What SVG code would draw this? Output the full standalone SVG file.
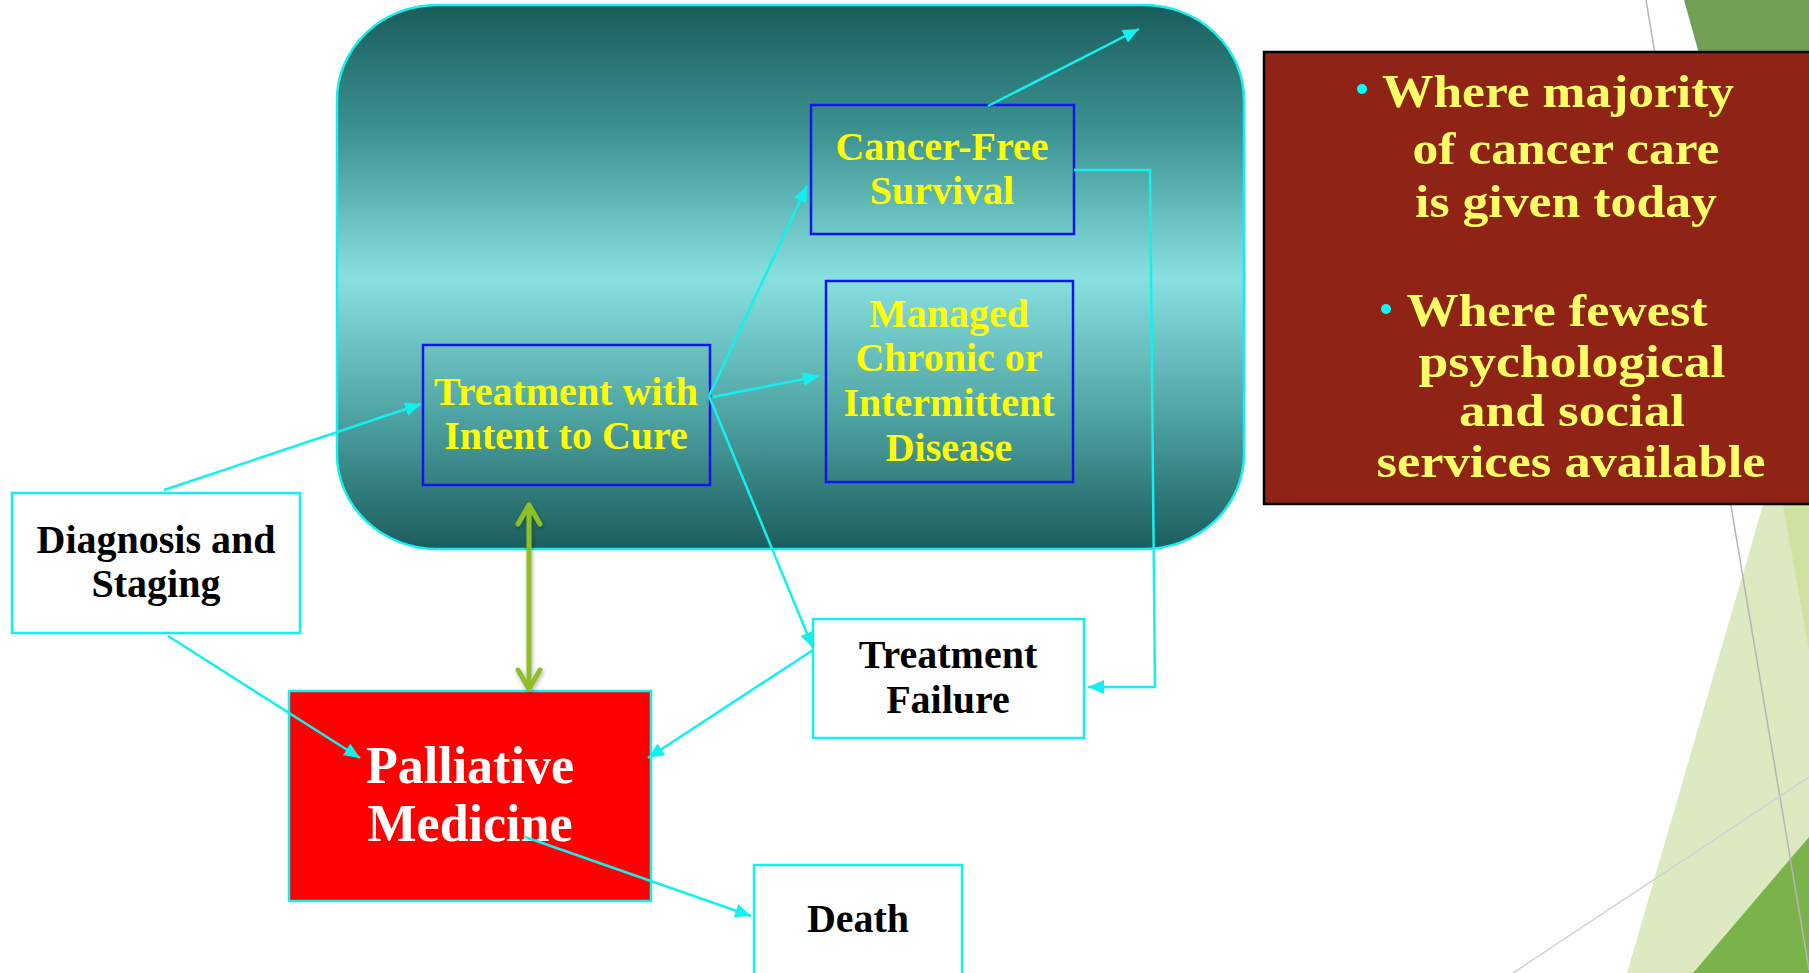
<svg xmlns="http://www.w3.org/2000/svg" width="1809" height="973" viewBox="0 0 1809 973">
<defs>
<linearGradient id="teal" x1="0" y1="0" x2="0" y2="1">
<stop offset="0" stop-color="#195c5b"/>
<stop offset="0.25" stop-color="#3f9796"/>
<stop offset="0.5" stop-color="#88e0e0"/>
<stop offset="0.75" stop-color="#4fa5a4"/>
<stop offset="1" stop-color="#1b5d5c"/>
</linearGradient>
<marker id="arr" markerUnits="userSpaceOnUse" markerWidth="18" markerHeight="14" refX="16" refY="7" orient="auto">
<path d="M0,0 L16,7 L0,14 z" fill="#12f0f0"/>
</marker>
<filter id="sh" x="-50%" y="-10%" width="200%" height="120%">
<feGaussianBlur in="SourceAlpha" stdDeviation="2"/>
<feOffset dx="1" dy="2"/>
<feComponentTransfer><feFuncA type="linear" slope="0.3"/></feComponentTransfer>
<feMerge><feMergeNode/><feMergeNode in="SourceGraphic"/></feMerge>
</filter>
</defs>
<style>
.t{font-family:"Liberation Serif","Times New Roman",serif;font-weight:bold;text-anchor:middle}
.y{fill:#ffff00;font-size:40px}
.k{fill:#000000;font-size:40px}
.w{fill:#ffffff;font-size:52px}
.b{fill:#ffff66;font-size:46px}
.blue{fill:none;stroke:#1414ee;stroke-width:2.5}
.cy{fill:#ffffff;stroke:#12f0f0;stroke-width:2.5}
.con{fill:none;stroke:#12f0f0;stroke-width:2.5;marker-end:url(#arr)}
</style>

<g id="background">
<polygon points="1684,0 1809,0 1809,200 1740,200" fill="#739f55"/>
<polygon points="1763,505 1809,505 1809,973 1627,973" fill="#dde9c1"/>
<polygon points="1783,505 1809,505 1809,650" fill="#cfe2a2"/>
<polygon points="1693,973 1809,837 1809,973" fill="#7ab34a"/>
<line x1="1646" y1="0" x2="1809" y2="970" stroke="#b5b5b5" stroke-width="1.5"/>
<line x1="1513" y1="973" x2="1809" y2="777" stroke="#d2d2d2" stroke-width="1.5"/>
</g>

<g id="curative-zone">
<rect x="337" y="5" width="907" height="544" rx="100" ry="95" fill="url(#teal)" stroke="#12f0f0" stroke-width="2.5"/>
</g>

<g id="cancer-free">
<rect class="blue" x="811" y="105" width="263" height="129"/>
<text class="t y" x="942" y="160">Cancer-Free</text>
<text class="t y" x="942" y="204">Survival</text>
</g>

<g id="managed">
<rect class="blue" x="826" y="281" width="247" height="201"/>
<text class="t y" x="949" y="327">Managed</text>
<text class="t y" x="949" y="371">Chronic or</text>
<text class="t y" x="949" y="416">Intermittent</text>
<text class="t y" x="949" y="461">Disease</text>
</g>

<g id="treatment">
<rect class="blue" x="423" y="345" width="287" height="140"/>
<text class="t y" x="566" y="405">Treatment with</text>
<text class="t y" x="566" y="449">Intent to Cure</text>
</g>

<g id="diagnosis">
<rect class="cy" x="12" y="493" width="288" height="140"/>
<text class="t k" x="156" y="553">Diagnosis and</text>
<text class="t k" x="156" y="597">Staging</text>
</g>

<g id="treatment-failure">
<rect class="cy" x="813" y="619" width="271" height="119"/>
<text class="t k" x="948" y="668">Treatment</text>
<text class="t k" x="948" y="713">Failure</text>
</g>

<g id="palliative">
<rect x="289" y="691" width="362" height="210" fill="#ff0000" stroke="#12f0f0" stroke-width="2.5"/>
<text class="t w" x="470" y="783">Palliative</text>
<text class="t w" x="470" y="841">Medicine</text>
</g>

<g id="death">
<rect class="cy" x="754" y="865" width="208" height="120"/>
<text class="t k" x="858" y="932">Death</text>
</g>

<g id="notes">
<rect x="1264" y="52" width="560" height="452" fill="#8f2416" stroke="#000000" stroke-width="2.5"/>
<circle cx="1362" cy="89" r="5" fill="#00ffff"/>
<text class="t b" x="1558" y="107" textLength="352" lengthAdjust="spacingAndGlyphs">Where majority</text>
<text class="t b" x="1566" y="164" textLength="307" lengthAdjust="spacingAndGlyphs">of cancer care</text>
<text class="t b" x="1566" y="217" textLength="302" lengthAdjust="spacingAndGlyphs">is given today</text>
<circle cx="1386" cy="309" r="5" fill="#00ffff"/>
<text class="t b" x="1557" y="326" textLength="301" lengthAdjust="spacingAndGlyphs">Where fewest</text>
<text class="t b" x="1572" y="377" textLength="307" lengthAdjust="spacingAndGlyphs">psychological</text>
<text class="t b" x="1572" y="426" textLength="226" lengthAdjust="spacingAndGlyphs">and social</text>
<text class="t b" x="1571" y="477" textLength="389" lengthAdjust="spacingAndGlyphs">services available</text>
</g>

<g id="connectors">
<line class="con" x1="164" y1="490" x2="421" y2="404"/>
<line class="con" x1="709" y1="396" x2="807" y2="186"/>
<line class="con" x1="713" y1="397" x2="819" y2="376"/>
<line class="con" x1="709" y1="396" x2="813" y2="648"/>
<line class="con" x1="988" y1="106" x2="1139" y2="29"/>
<polyline class="con" points="1074,170 1150,170 1155,687 1088,687"/>
<line class="con" x1="813" y1="650" x2="648" y2="758"/>
<line class="con" x1="168" y1="636" x2="360" y2="758"/>
<line class="con" x1="525" y1="837" x2="751" y2="916"/>
<g filter="url(#sh)" stroke="#8fbf26" stroke-width="5" fill="none" stroke-linecap="round" stroke-linejoin="round">
<line x1="529" y1="505" x2="529" y2="689"/>
<polyline points="518,524 529,505 540,524"/>
<polyline points="518,670 529,689 540,670"/>
</g>
</g>
</svg>
